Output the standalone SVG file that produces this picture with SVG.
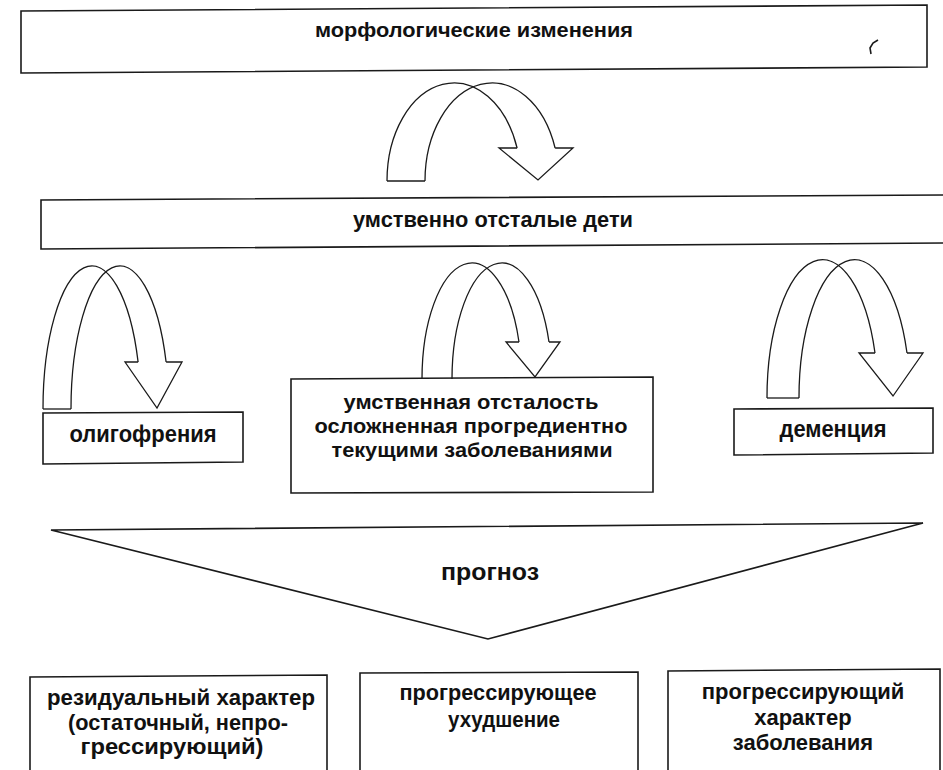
<svg xmlns="http://www.w3.org/2000/svg" width="943" height="770" viewBox="0 0 943 770">
  <style>
    .box { fill: #fff; stroke: #1a1a1a; stroke-width: 1.6; stroke-linejoin: miter; }
    .edge { fill: none; stroke: #1a1a1a; stroke-width: 1.6; }
    .arrow { fill: none; stroke: #1a1a1a; stroke-width: 1.3; stroke-linejoin: miter; }
    .t { font-family: "Liberation Sans", Arial, sans-serif; font-weight: bold; fill: #111; text-anchor: middle; }
  </style>

  <rect width="943" height="770" fill="#fff"/>

  <!-- upper level -->
  <g id="node-morphology">
    <polygon class="box" points="21,11 927,5 927,67 21,73"/>
    <text class="t" x="474" y="37" font-size="20" textLength="318" lengthAdjust="spacingAndGlyphs">морфологические изменения</text>
    <path class="edge" d="M878,40 L873,43 L870,48 L871,54" stroke-width="2"/>
  </g>

  <g id="node-children">
    <path class="box" d="M946,195 L41,200 L41,249 L946,243"/>
    <text class="t" x="493" y="227" font-size="22" textLength="280" lengthAdjust="spacingAndGlyphs">умственно отсталые дети</text>
  </g>

  <!-- three forms -->
  <g id="node-oligophrenia">
    <polygon class="box" points="43,413 243,412 243,462 43,464"/>
    <text class="t" x="143" y="442" font-size="23" textLength="147" lengthAdjust="spacingAndGlyphs">олигофрения</text>
  </g>

  <g id="node-progredient">
    <polygon class="box" points="291,379 653,377 653,492 291,493"/>
    <text class="t" x="471" y="409" font-size="21" textLength="255" lengthAdjust="spacingAndGlyphs">умственная отсталость</text>
    <text class="t" x="471" y="433" font-size="21" textLength="313" lengthAdjust="spacingAndGlyphs">осложненная прогредиентно</text>
    <text class="t" x="472" y="457" font-size="21" textLength="281" lengthAdjust="spacingAndGlyphs">текущими заболеваниями</text>
  </g>

  <g id="node-dementia">
    <polygon class="box" points="734,409 933,408 933,453 734,455"/>
    <text class="t" x="833" y="437" font-size="23" textLength="107" lengthAdjust="spacingAndGlyphs">деменция</text>
  </g>

  <!-- prognosis funnel -->
  <g id="node-prognosis">
    <polygon class="box" points="51,530 923,523 488,639"/>
    <text class="t" x="490" y="580" font-size="24" textLength="98" lengthAdjust="spacingAndGlyphs">прогноз</text>
  </g>

  <!-- outcomes -->
  <g id="node-residual">
    <path class="box" d="M30,772 L30,677 L327,675 L327,772"/>
    <text class="t" x="181" y="705" font-size="22" textLength="268" lengthAdjust="spacingAndGlyphs">резидуальный характер</text>
    <text class="t" x="178" y="730" font-size="22" textLength="220" lengthAdjust="spacingAndGlyphs">(остаточный, непро-</text>
    <text class="t" x="172" y="754" font-size="22" textLength="183" lengthAdjust="spacingAndGlyphs">грессирующий)</text>
  </g>

  <g id="node-worsening">
    <path class="box" d="M360,772 L360,673 L638,672 L638,772"/>
    <text class="t" x="498" y="700" font-size="22" textLength="197" lengthAdjust="spacingAndGlyphs">прогрессирующее</text>
    <text class="t" x="504" y="727" font-size="22" textLength="112" lengthAdjust="spacingAndGlyphs">ухудшение</text>
  </g>

  <g id="node-disease">
    <path class="box" d="M668,772 L668,671 L940,669 L940,772"/>
    <text class="t" x="803" y="699" font-size="22">прогрессирующий</text>
    <text class="t" x="803" y="725" font-size="22">характер</text>
    <text class="t" x="803" y="750" font-size="22">заболевания</text>
  </g>

  <!-- curved block arrows -->
  <g id="connectors">
    <g id="arrow-top">
      <path class="arrow" d="M387,181 A67,98 0 0 1 517.1,148"/>
      <path class="arrow" d="M425,181 A67,98 0 0 1 555.1,148"/>
      <path class="arrow" d="M387,181 L425,181"/>
      <path class="arrow" d="M517.1,148 L499,148 L538,180 L573,148 L555.1,148"/>
    </g>
    <g id="arrow-left">
      <path class="arrow" d="M43,409 A48.9,143 0 0 1 138.1,362"/>
      <path class="arrow" d="M71,409 A48.9,143 0 0 1 166.1,362"/>
      <path class="arrow" d="M43,409 L71,409"/>
      <path class="arrow" d="M138.1,362 L125,362 L157,408 L182,362 L166.1,362"/>
    </g>
    <g id="arrow-middle">
      <path class="arrow" d="M422,379 A49.8,116 0 0 1 519,342"/>
      <path class="arrow" d="M452,379 A49.8,116 0 0 1 549,342"/>
      <path class="arrow" d="M519,342 L506,342 L535,377 L560,342 L549,342"/>
    </g>
    <g id="arrow-right">
      <path class="arrow" d="M767,398 A55.5,138 0 0 1 875,353"/>
      <path class="arrow" d="M799,398 A55.5,138 0 0 1 907,353"/>
      <path class="arrow" d="M767,398 L799,398"/>
      <path class="arrow" d="M875,353 L859,353 L893,396 L923,353 L907,353"/>
    </g>
  </g>
</svg>
